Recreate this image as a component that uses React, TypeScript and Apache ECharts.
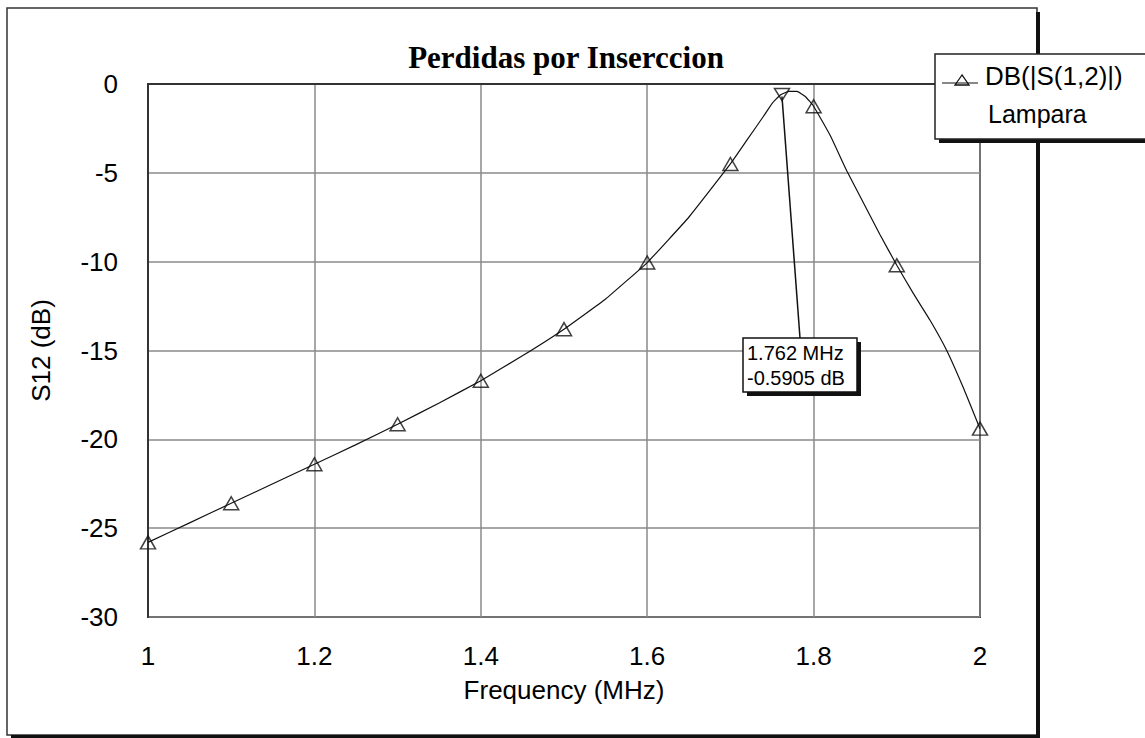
import React, { useEffect, useRef } from "react";
import * as echarts from "echarts";

const freqMHz = [
  1.0, 1.05, 1.1, 1.15, 1.2, 1.25, 1.3, 1.35, 1.4, 1.45, 1.5, 1.55, 1.6, 1.65,
  1.7, 1.72, 1.74, 1.75, 1.76, 1.77, 1.78, 1.79, 1.8, 1.82, 1.84, 1.86, 1.88,
  1.9, 1.92, 1.94, 1.96, 1.98, 2.0,
];
const s12dB = [
  -25.8, -24.7, -23.6, -22.5, -21.4, -20.3, -19.15, -17.95, -16.7, -15.3, -13.8,
  -12.1, -10.05, -7.5, -4.5, -3.15, -1.8, -1.1, -0.62, -0.42, -0.42, -0.7, -1.25,
  -2.9, -4.9, -6.7, -8.5, -10.2, -11.8, -13.3, -15.0, -17.1, -19.4,
];
const markerFreq = 1.762;
const markerDb = -0.5905;
const markerLines = ["1.762 MHz", "-0.5905 dB"];
const titleText = "Perdidas por Inserccion";
const seriesName = "DB(|S(1,2)|)";
const seriesSub = "Lampara";
const xAxisName = "Frequency (MHz)";
const yAxisName = "S12 (dB)";

const FONT = "'Liberation Sans', Arial, sans-serif";

export default function App() {
  const ref = useRef<HTMLDivElement>(null);
  useEffect(() => {
    document.body.style.margin = "0";
    if (!ref.current) return;
    const chart = echarts.init(ref.current, undefined, { renderer: "svg" });
    const curve = freqMHz.map((f, i) => [f, s12dB[i]]);
    const tri = curve.filter(
      ([f]) => Math.abs(f * 10 - Math.round(f * 10)) < 1e-6
    );
    chart.setOption({
      animation: false,
      backgroundColor: "#fff",
      title: {
        text: titleText,
        left: 561,
        top: 37,
        textAlign: "center",
        textStyle: {
          fontFamily: "'Liberation Serif', 'Times New Roman', serif",
          fontWeight: "bold",
          fontSize: 31,
          color: "#000",
        },
      },
      grid: {
        left: 148,
        top: 84,
        right: 165,
        bottom: 121,
        show: true,
        borderColor: "#333",
        borderWidth: 2,
        backgroundColor: "transparent",
      },
      xAxis: {
        type: "value",
        min: 1,
        max: 2,
        interval: 0.2,
        name: xAxisName,
        nameLocation: "middle",
        nameGap: 60,
        nameTextStyle: { fontFamily: FONT, fontSize: 26, color: "#000" },
        axisLine: { show: true, lineStyle: { color: "#333", width: 2 } },
        axisTick: { show: false },
        axisLabel: {
          fontFamily: FONT,
          fontSize: 26,
          color: "#000",
          margin: 26,
        },
        splitLine: { show: true, lineStyle: { color: "#8a8a8a", width: 1.5 } },
      },
      yAxis: {
        type: "value",
        min: -30,
        max: 0,
        interval: 5,
        name: yAxisName,
        nameLocation: "middle",
        nameGap: 94,
        nameTextStyle: { fontFamily: FONT, fontSize: 26, color: "#000" },
        axisLine: { show: true, lineStyle: { color: "#333", width: 2 } },
        axisTick: { show: false },
        axisLabel: {
          fontFamily: FONT,
          fontSize: 26,
          color: "#000",
          margin: 30,
        },
        splitLine: { show: true, lineStyle: { color: "#8a8a8a", width: 1.5 } },
      },
      series: [
        {
          name: seriesName,
          type: "line",
          data: curve,
          showSymbol: false,
          smooth: 0.1,
          lineStyle: { color: "#111", width: 1.2 },
          z: 3,
        },
        {
          name: seriesName + " markers",
          type: "scatter",
          data: tri,
          symbol: "triangle",
          symbolSize: [15, 13],
          itemStyle: {
            color: "rgba(255,255,255,0)",
            borderColor: "#111",
            borderWidth: 1.5,
          },
          z: 4,
        },
        {
          name: "marker",
          type: "scatter",
          data: [[markerFreq, markerDb]],
          symbol: "triangle",
          symbolRotate: 180,
          symbolSize: [15, 12],
          itemStyle: {
            color: "rgba(255,255,255,0)",
            borderColor: "#111",
            borderWidth: 1.5,
          },
          z: 5,
        },
      ],
    });

    const p = chart.convertToPixel({ gridIndex: 0 }, [markerFreq, markerDb]) as number[];
    const boxX = 743, boxY = 338, boxW = 114, boxH = 54;
    chart.setOption({
      graphic: [
        {
          type: "rect",
          shape: { x: 7, y: 8, width: 1030, height: 727 },
          style: { fill: "none", stroke: "#333", lineWidth: 1.5 },
          z: 1,
        },
        {
          type: "rect",
          shape: { x: 1036, y: 12, width: 4, height: 726 },
          style: { fill: "#111" },
          z: 1,
        },
        {
          type: "rect",
          shape: { x: 11, y: 735, width: 1029, height: 3 },
          style: { fill: "#111" },
          z: 1,
        },
        {
          type: "line",
          shape: { x1: p[0], y1: p[1] + 2, x2: 800, y2: boxY },
          style: { stroke: "#111", lineWidth: 1.5 },
          z: 10,
        },
        {
          type: "rect",
          shape: { x: boxX + 4, y: boxY + 4, width: boxW, height: boxH },
          style: { fill: "#111" },
          z: 10,
        },
        {
          type: "rect",
          shape: { x: boxX, y: boxY, width: boxW, height: boxH },
          style: { fill: "#fff", stroke: "#111", lineWidth: 1.5 },
          z: 11,
        },
        {
          type: "text",
          x: boxX + 4,
          y: boxY + 15,
          style: {
            text: markerLines[0],
            font: `20px ${FONT}`,
            fill: "#000",
            verticalAlign: "middle",
          },
          z: 12,
        },
        {
          type: "text",
          x: boxX + 4,
          y: boxY + 40,
          style: {
            text: markerLines[1],
            font: `20px ${FONT}`,
            fill: "#000",
            verticalAlign: "middle",
          },
          z: 12,
        },
        {
          type: "rect",
          shape: { x: 939, y: 58, width: 210, height: 85 },
          style: { fill: "#111" },
          z: 20,
        },
        {
          type: "rect",
          shape: { x: 935, y: 54, width: 215, height: 85 },
          style: { fill: "#fff", stroke: "#222", lineWidth: 1.5 },
          z: 21,
        },
        {
          type: "line",
          shape: { x1: 942, y1: 83, x2: 978, y2: 83 },
          style: { stroke: "#111", lineWidth: 1.2 },
          z: 22,
        },
        {
          type: "polygon",
          shape: { points: [[962, 75], [955, 85], [969, 85]] },
          style: { fill: "none", stroke: "#111", lineWidth: 1.3 },
          z: 22,
        },
        {
          type: "text",
          x: 985,
          y: 76,
          style: {
            text: seriesName,
            font: `26px ${FONT}`,
            fill: "#000",
            verticalAlign: "middle",
          },
          z: 22,
        },
        {
          type: "text",
          x: 988,
          y: 114,
          style: {
            text: seriesSub,
            font: `25px ${FONT}`,
            fill: "#000",
            verticalAlign: "middle",
          },
          z: 22,
        },
      ],
    });
    return () => chart.dispose();
  }, []);
  return <div ref={ref} style={{ width: 1145, height: 738 }} />;
}
